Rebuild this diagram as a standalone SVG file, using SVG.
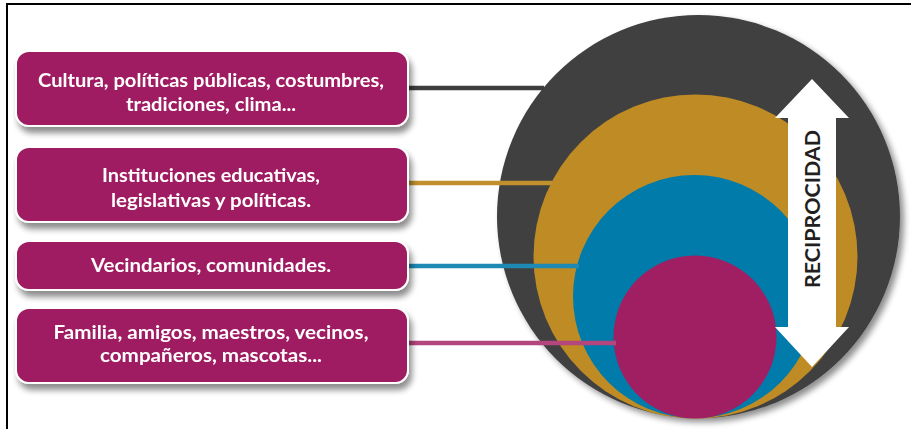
<svg xmlns="http://www.w3.org/2000/svg" width="911" height="429" viewBox="0 0 911 429">
<defs>
<style>
.box{fill:#A01F62;stroke:#ffffff;stroke-width:2}
.lbl{font-family:Lato,"Open Sans","Liberation Sans",sans-serif;font-weight:bold;font-size:19px;fill:#ffffff;text-anchor:middle}
.conn{fill:none;stroke-width:4.5}
</style>
<filter id="bshadow" x="-10%" y="-20%" width="125%" height="160%">
<feGaussianBlur in="SourceAlpha" stdDeviation="3"/>
<feOffset dx="3" dy="6" result="b"/>
<feComponentTransfer><feFuncA type="linear" slope="0.45"/></feComponentTransfer>
<feMerge><feMergeNode/><feMergeNode in="SourceGraphic"/></feMerge>
</filter>
<filter id="cshadow" x="-10%" y="-10%" width="125%" height="125%">
<feGaussianBlur in="SourceAlpha" stdDeviation="3"/>
<feOffset dx="4" dy="4"/>
<feComponentTransfer><feFuncA type="linear" slope="0.45"/></feComponentTransfer>
<feMerge><feMergeNode/><feMergeNode in="SourceGraphic"/></feMerge>
</filter>
</defs>
<rect width="911" height="429" fill="#ffffff"/>
<path d="M7 429 V4 H911" fill="none" stroke="#000000" stroke-width="2"/>

<g id="circles">
<circle id="c-outer" cx="698.5" cy="216.5" r="201.5" fill="#404040" filter="url(#cshadow)"/>
<circle id="c-gold" cx="695.5" cy="256.5" r="162" fill="#BE8B24"/>
<circle id="c-blue" cx="694.5" cy="296.5" r="121.5" fill="#007BAA"/>
<circle id="c-magenta" cx="695" cy="337" r="81.5" fill="#A01F62"/>
</g>

<g id="connectors">
<line class="conn" x1="409" y1="88" x2="544" y2="88" stroke="#3d3d3d"/>
<line class="conn" x1="409" y1="183" x2="552" y2="183" stroke="#C0902D"/>
<line class="conn" x1="409" y1="266" x2="579" y2="266" stroke="#1D8AB6"/>
<line class="conn" x1="409" y1="343" x2="616" y2="343" stroke="#B4467E"/>
</g>

<g id="reciprocidad">
<polygon points="812,79 849,118 836,118 836,327 849,327 812,367 775,327 788,327 788,118 775,118" fill="#ffffff"/>
<text transform="translate(820,209) rotate(-90)" x="0" y="0" font-family="Lato,'Open Sans','Liberation Sans',sans-serif" font-weight="bold" font-size="20" fill="#231F20" text-anchor="middle" textLength="158" lengthAdjust="spacingAndGlyphs">RECIPROCIDAD</text>
</g>

<g id="node1" filter="url(#bshadow)">
<rect class="box" x="16" y="51" width="392" height="75" rx="13"/>
<text class="lbl" x="211" y="87" textLength="346" lengthAdjust="spacingAndGlyphs">Cultura, políticas públicas, costumbres,</text>
<text class="lbl" x="211" y="111" textLength="170" lengthAdjust="spacingAndGlyphs">tradiciones, clima...</text>
</g>
<g id="node2" filter="url(#bshadow)">
<rect class="box" x="16" y="147" width="392" height="75" rx="13"/>
<text class="lbl" x="211" y="182" textLength="218" lengthAdjust="spacingAndGlyphs">Instituciones educativas,</text>
<text class="lbl" x="211" y="207" textLength="200" lengthAdjust="spacingAndGlyphs">legislativas y políticas.</text>
</g>
<g id="node3" filter="url(#bshadow)">
<rect class="box" x="16" y="241" width="392" height="49" rx="13"/>
<text class="lbl" x="211" y="272" textLength="240" lengthAdjust="spacingAndGlyphs">Vecindarios, comunidades.</text>
</g>
<g id="node4" filter="url(#bshadow)">
<rect class="box" x="16" y="308" width="392" height="75" rx="13"/>
<text class="lbl" x="211" y="339" textLength="315" lengthAdjust="spacingAndGlyphs">Familia, amigos, maestros, vecinos,</text>
<text class="lbl" x="211" y="362" textLength="222" lengthAdjust="spacingAndGlyphs">compañeros, mascotas...</text>
</g>
</svg>
